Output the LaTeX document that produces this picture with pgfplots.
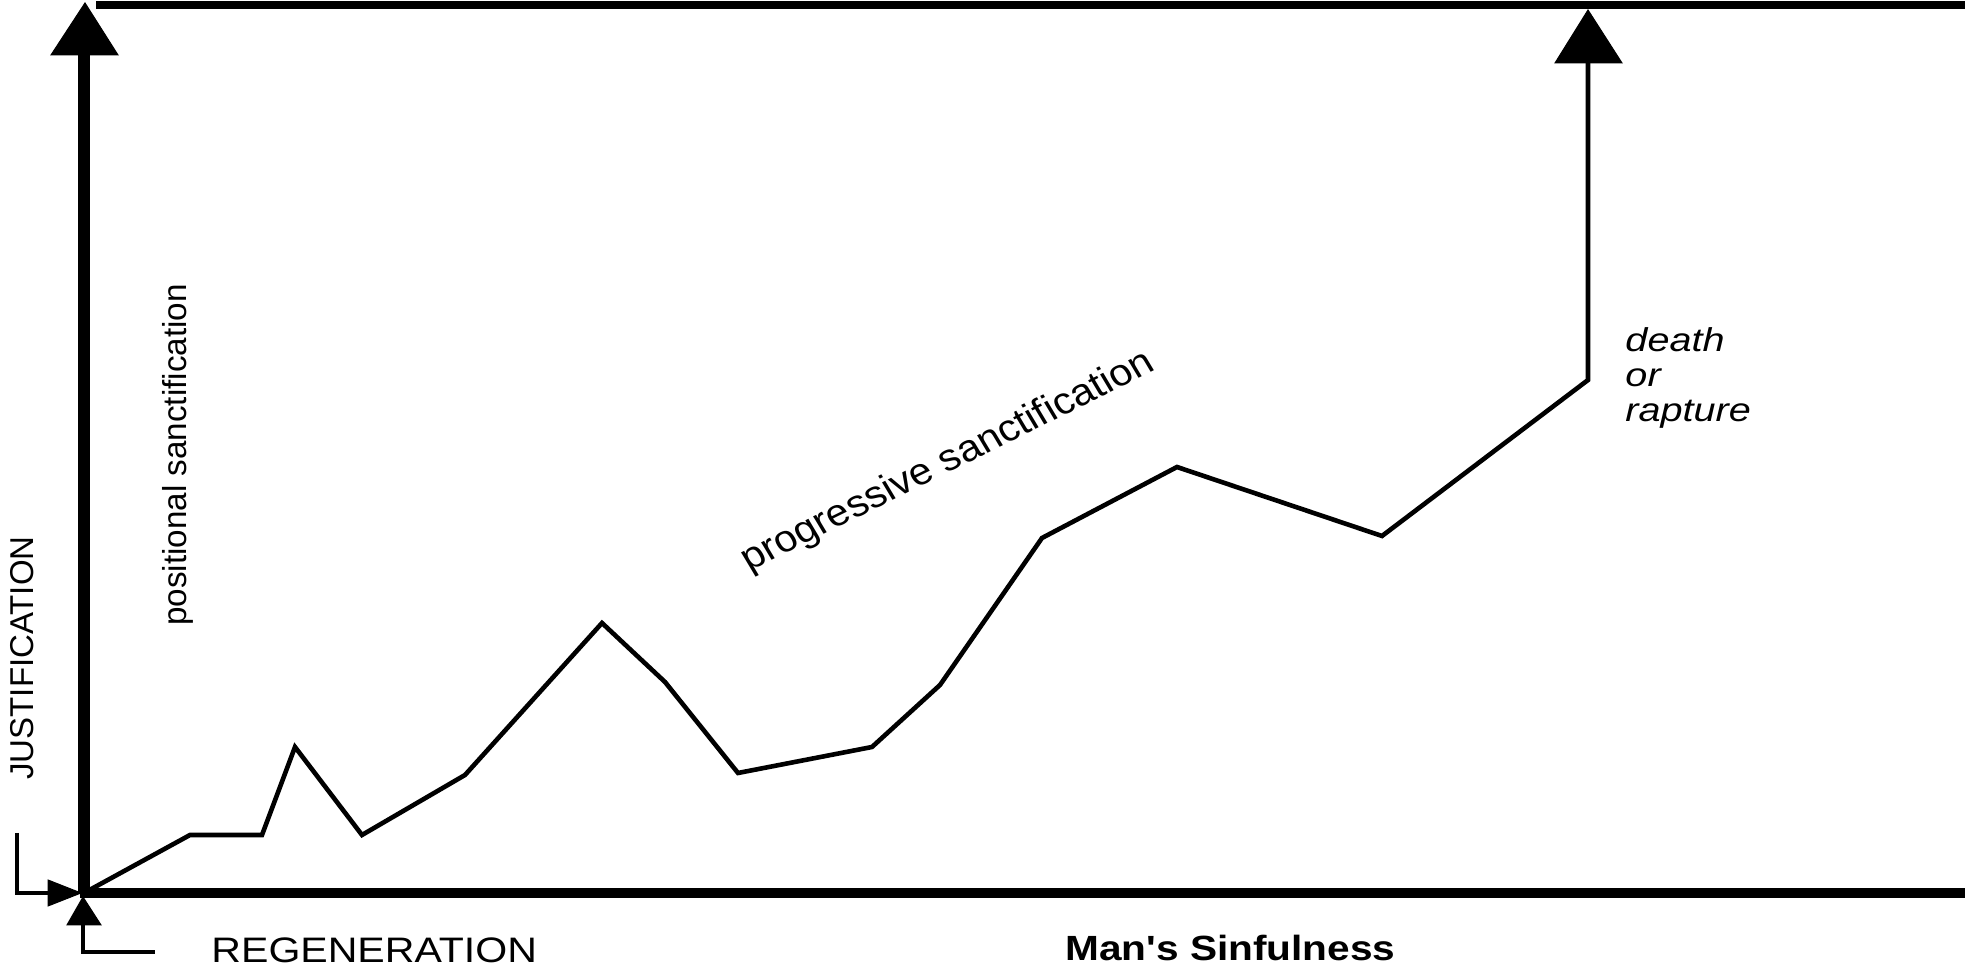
\documentclass[border=0pt]{standalone}
\usepackage{pgfplots}
\pgfplotsset{compat=1.18}
\usepackage{fontspec}
\setmainfont{Liberation Sans}
\begin{document}
\begin{tikzpicture}
\begin{axis}[width=982.5bp, height=483.5bp, scale only axis,
  xmin=0, xmax=1965, ymin=0, ymax=967, hide axis, clip=false]
% frame lines
\addplot[black, line width=6bp] coordinates {(84,74) (84,915)};
\addplot[black, line width=5bp] coordinates {(80,74) (1965,74)};
\addplot[black, line width=4bp] coordinates {(96,962) (1965,962)};
% arrowheads
\addplot[black, fill=black, line width=0.5bp] coordinates {(51,912) (118,912) (85,964)} -- cycle;
\addplot[black, fill=black, line width=0.5bp] coordinates {(1555,904) (1622,904) (1588,957)} -- cycle;
\addplot[black, fill=black, line width=0.5bp] coordinates {(48,87) (48,61) (81,74)} -- cycle;
\addplot[black, fill=black, line width=0.5bp] coordinates {(67,42) (101,42) (83,70)} -- cycle;
% small brackets
\addplot[black, line width=2bp] coordinates {(17,134) (17,74) (50,74)};
\addplot[black, line width=2bp] coordinates {(83,44) (83,15) (155,15)};
% sanctification path
\addplot[black, line width=2.3bp, line join=miter] coordinates {
(84,74) (190,132) (262,132) (295,220) (362,132) (465,192) (602,344)
(665,285) (738,194) (872,220) (940,282) (1042,429) (1177,500)
(1382,431) (1588,587) (1588,906)};
% texts
\node[rotate=90, inner sep=0pt, font=\fontsize{16.5bp}{19bp}\selectfont] at (axis cs:22,309) {JUSTIFICATION};
\node[rotate=90, inner sep=0pt, font=\fontsize{16.6bp}{19bp}\selectfont] at (axis cs:178,512) {positional sanctification};
\node[xscale=1.1, rotate=28.5, inner sep=0pt, font=\fontsize{18.8bp}{19bp}\selectfont] at (axis cs:948,505) {progressive sanctification};
\node[xscale=1.2, anchor=base west, inner sep=0pt, font=\fontsize{16.5bp}{19bp}\itshape] at (axis cs:1625,615) {death};
\node[xscale=1.2, anchor=base west, inner sep=0pt, font=\fontsize{16.5bp}{19bp}\itshape] at (axis cs:1625,580) {or};
\node[xscale=1.2, anchor=base west, inner sep=0pt, font=\fontsize{16.5bp}{19bp}\itshape] at (axis cs:1625,545) {rapture};
\node[xscale=1.16, anchor=base west, inner sep=0pt, font=\fontsize{17.7bp}{19bp}\selectfont] at (axis cs:211,5) {REGENERATION};
\node[xscale=1.16, anchor=base west, inner sep=0pt, font=\fontsize{17.5bp}{19bp}\bfseries] at (axis cs:1065,7) {Man\textquotesingle s Sinfulness};
\coordinate (bl) at (axis cs:0,0);
\coordinate (tr) at (axis cs:1965,967);
\end{axis}
\pgfresetboundingbox
\path (bl) rectangle (tr);
\end{tikzpicture}
\end{document}
